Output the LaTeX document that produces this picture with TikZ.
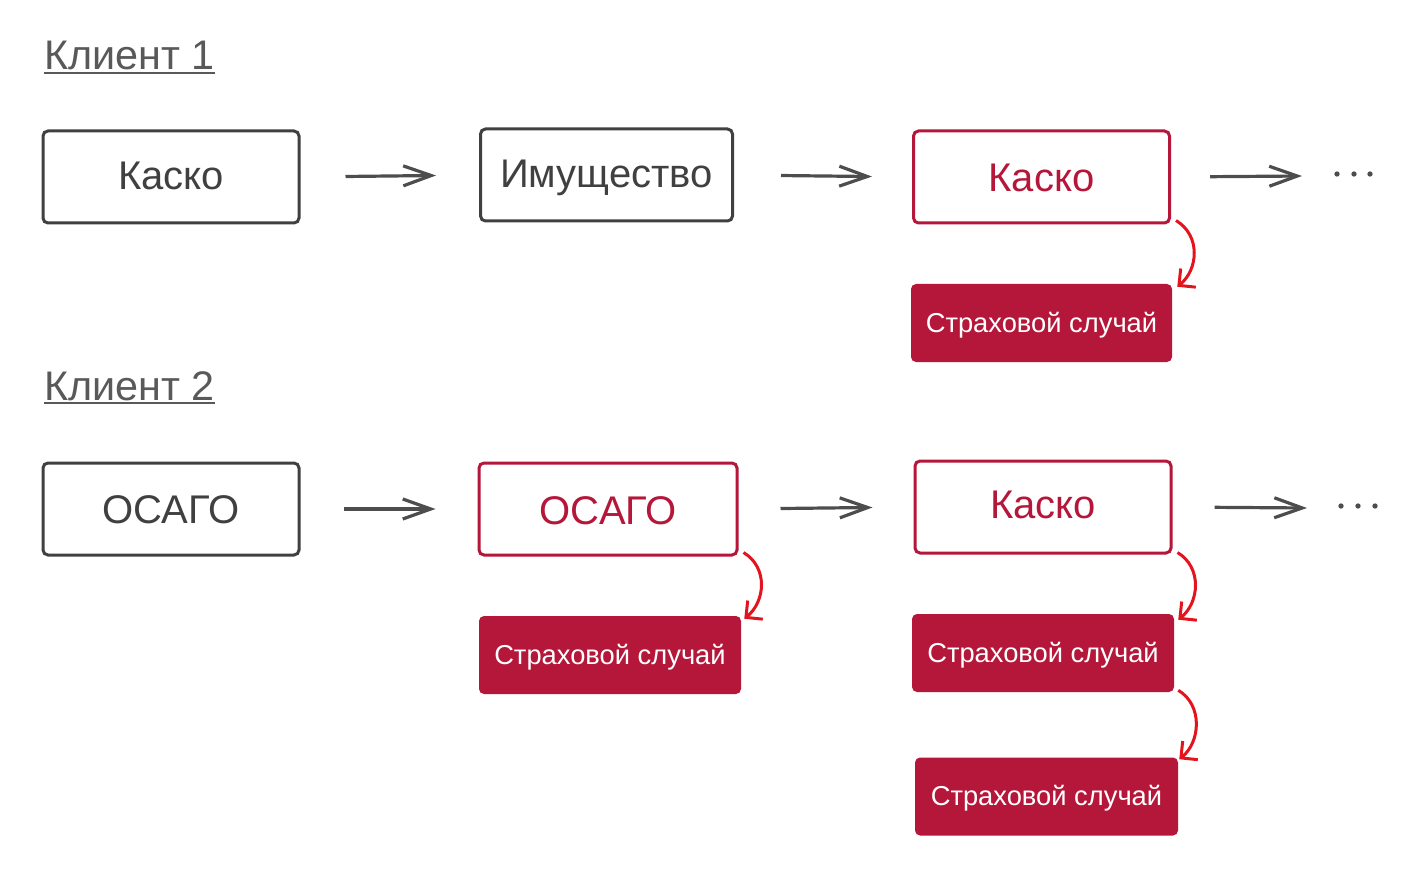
\documentclass[tikz,border=0pt]{standalone}
\usepackage{fontspec}
\setmainfont{Liberation Sans}
\usetikzlibrary{arrows.meta}
\definecolor{boxgray}{HTML}{404040}
\definecolor{arrgray}{HTML}{4D4D4D}
\definecolor{titlegray}{HTML}{595959}
\definecolor{crimson}{HTML}{B5173B}
\definecolor{brightred}{HTML}{E3141E}
\tikzset{
  plainbox/.style={draw=boxgray, line width=2.25pt, rounded corners=3.75pt, inner sep=0pt,
    minimum width=#1*0.75pt, minimum height=69pt, text=boxgray, text height=24pt,
    font=\fontsize{30}{36}\selectfont},
  redbox/.style={plainbox=#1, draw=crimson, text=crimson},
  casebox/.style={fill=crimson, rounded corners=3.75pt, inner sep=0pt,
    minimum width=#1*0.75pt, minimum height=58.5pt, text=white,
    text height=17pt, text depth=3.5pt,
    font=\fontsize{20.5}{25}\selectfont},
  titletext/.style={inner sep=0pt, anchor=base west, text=titlegray,
    font=\fontsize{31}{37}\selectfont},
  uline/.style={draw=titlegray, line width=1.5pt},
  garrow/.style={draw=arrgray, line width=2.4pt,
    -{Straight Barb[length=21pt,width=15pt]}},
  rarrow/.style={draw=brightred, line width=2.25pt,
    -{Straight Barb[length=9pt,width=18pt]}},
  dotstyle/.style={fill=arrgray}
}
\begin{document}
\begin{tikzpicture}[x=0.75pt,y=-0.75pt]
\useasboundingbox (0,0) rectangle (1416,880);
% titles
\node[titletext] (t1) at (44,70) {Клиент 1};
\draw[uline] ([yshift=-2.5pt]t1.base west) -- ([yshift=-2.5pt]t1.base east);
\node[titletext] (t2) at (44,400) {Клиент 2};
\draw[uline] ([yshift=-2.5pt]t2.base west) -- ([yshift=-2.5pt]t2.base east);
% row 1
\node[plainbox=256, text depth=5.5pt] (k1) at (171,177) {Каско};
\node[plainbox=252, text depth=5pt] (im) at (606.5,175) {Имущество};
\node[redbox=256, text depth=1.5pt] (k1r) at (1041.5,177) {Каско};
\node[casebox=261, text depth=3pt, text height=18pt] (s1) at (1041.5,323) {Страховой случай};
\coordinate (e1) at (1302,176);
\draw[garrow, shorten <=33.75pt, shorten >=32.25pt] (k1.east) -- (im.west);
\draw[garrow, shorten <=35.25pt, shorten >=30pt] (im.east) -- (k1r.west);
\draw[garrow, shorten <=29.25pt] (k1r.east) -- (e1);
\fill[dotstyle] (1337,174) circle (2pt) (1354,174) circle (2pt) (1370,174) circle (2pt);
\draw[rarrow] ([shift={(5,-4)}]k1r.south east) .. controls +(25,15) and +(21,-17) .. ([shift={(5,3)}]s1.north east);
% row 2
\node[plainbox=256, text depth=2.25pt] (o2) at (171,509) {ОСАГО};
\node[redbox=258, text depth=1.5pt] (o2r) at (608,509) {ОСАГО};
\node[redbox=256, text depth=7.5pt] (k2r) at (1043,507) {Каско};
\node[casebox=262] (s2) at (610,655) {Страховой случай};
\node[casebox=262] (s3) at (1043,653) {Страховой случай};
\node[casebox=263] (s4) at (1046.5,796.5) {Страховой случай};
\coordinate (e2) at (1307,508);
\draw[garrow, shorten <=32.25pt, shorten >=31.5pt] (o2.east) -- (o2r.west);
\draw[garrow, shorten <=31.5pt, shorten >=30.75pt] (o2r.east) -- (k2r.west);
\draw[garrow, shorten <=31.5pt] (k2r.east) -- (e2);
\fill[dotstyle] (1341,506) circle (2pt) (1358,506) circle (2pt) (1375,506) circle (2pt);
\draw[rarrow] ([shift={(5,-4)}]o2r.south east) .. controls +(25,15) and +(21,-17) .. ([shift={(3,3)}]s2.north east);
\draw[rarrow] ([shift={(5,-2)}]k2r.south east) .. controls +(25,15) and +(21,-17) .. ([shift={(4,6)}]s3.north east);
\draw[rarrow] ([shift={(4,-2)}]s3.south east) .. controls +(25,15) and +(21,-17) .. ([shift={(1,2)}]s4.north east);
\end{tikzpicture}
\end{document}
